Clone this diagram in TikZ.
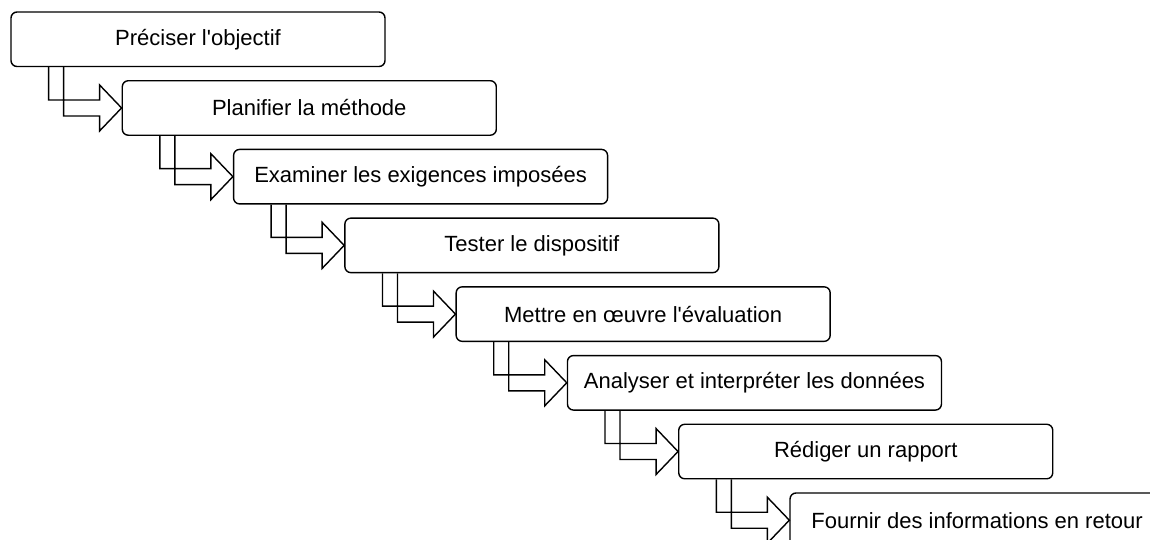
\documentclass[tikz,border=0pt]{standalone}
\usepackage{fontspec}
\newfontfamily\stepfont{Liberation Sans}
\begin{document}
\begin{tikzpicture}[x=1pt,y=-1pt,
  stepbox/.style={draw=black, line width=1.4pt, rounded corners=6pt,
    minimum width=374pt, minimum height=54.5pt, inner sep=0pt,
    font=\stepfont\fontsize{22}{26}\selectfont},
  flow/.style={draw=black, line width=1.4pt, line join=miter}]
\useasboundingbox (0,0) rectangle (1150,539);
\clip (0,0) rectangle (1150,539);
% staircase of steps
\foreach \i/\txt in {0/{Préciser l'objectif},
                      1/{Planifier la méthode},
                      2/{Examiner les exigences imposées},
                      3/{Tester le dispositif},
                      4/{Mettre en œuvre l'évaluation},
                      5/{Analyser et interpréter les données},
                      6/{Rédiger un rapport},
                      7/{Fournir des informations en retour}}{
  \node[stepbox] (s\i) at ({198+\i*111.29},{39.25+\i*68.71}) {\txt};
}
% hollow elbow arrows from each step to the next
\foreach \i [evaluate=\i as \j using int(\i+1)] in {0,...,6}{
  \draw[flow] ([xshift=-58pt]s\i.south west -| s\j.west)
    -- ([xshift=-58pt,yshift=-8pt]s\j.west)
    -- ([xshift=-22pt,yshift=-8pt]s\j.west)
    -- ([xshift=-22pt,yshift=-23pt]s\j.west)
    -- (s\j.west)
    -- ([xshift=-22pt,yshift=23pt]s\j.west)
    -- ([xshift=-22pt,yshift=8pt]s\j.west)
    -- ([xshift=-73pt,yshift=8pt]s\j.west)
    -- ([xshift=-73pt]s\i.south west -| s\j.west);
}
\end{tikzpicture}
\end{document}
